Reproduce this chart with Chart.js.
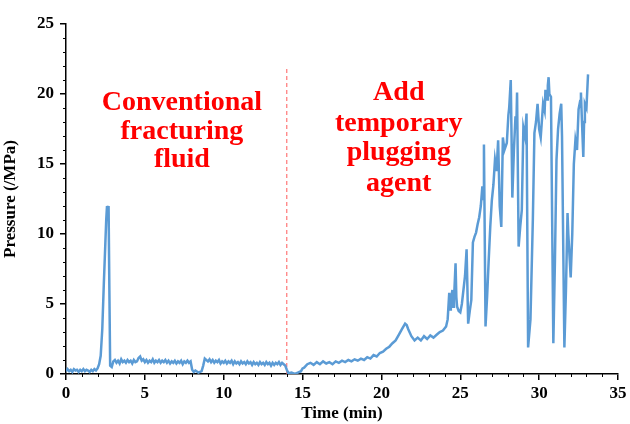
<!DOCTYPE html>
<html>
<head>
<meta charset="utf-8">
<script src="https://cdn.jsdelivr.net/npm/chart.js@4"></script>
<style>
  html, body { margin: 0; padding: 0; background: #fff; }
  #wrap { width: 630px; height: 424px; }
</style>
</head>
<body>
<div id="wrap"><canvas id="pressure-chart"></canvas></div>
<script>
// time (min) and pressure (MPa)
const timeMin = [
  0.0, 0.1, 0.2, 0.3, 0.4, 0.5, 0.6, 0.7, 0.8, 0.9, 1.0, 1.1, 1.2, 1.3, 1.4, 1.5, 1.6, 1.7, 1.8, 1.9,
  2.0, 2.1, 2.2, 2.3, 2.4, 2.5, 2.55, 2.6, 2.65, 2.7, 2.75, 2.8, 2.9,
  3.0, 3.1, 3.2, 3.3, 3.4, 3.5, 3.6, 3.7, 3.8, 3.9, 4.0, 4.1, 4.2, 4.3, 4.4, 4.5, 4.6, 4.7, 4.8, 4.9,
  5.0, 5.1, 5.2, 5.3, 5.4, 5.5, 5.6, 5.7, 5.8, 5.9, 6.0, 6.1, 6.2, 6.3, 6.4, 6.5, 6.6, 6.7, 6.8, 6.9,
  7.0, 7.1, 7.2, 7.3, 7.4, 7.5, 7.6, 7.7, 7.8, 7.9,
  8.0, 8.1, 8.2, 8.4, 8.6, 8.7, 8.8,
  9.0, 9.1, 9.2, 9.3, 9.4, 9.5, 9.6, 9.7, 9.8, 9.9, 10.0, 10.1, 10.2, 10.3, 10.4, 10.5, 10.6, 10.7, 10.8, 10.9,
  11.0, 11.1, 11.2, 11.3, 11.4, 11.5, 11.6, 11.7, 11.8, 11.9, 12.0, 12.1, 12.2, 12.3, 12.4, 12.5, 12.6, 12.7, 12.8, 12.9,
  13.0, 13.1, 13.2, 13.3, 13.4, 13.5, 13.6, 13.7, 13.8,
  13.9, 14.0, 14.1, 14.3, 14.5, 14.7, 14.9, 15.0, 15.1, 15.3, 15.5,
  15.7, 15.9, 16.1, 16.3, 16.5, 16.7, 16.9, 17.1, 17.3, 17.5, 17.7, 17.9, 18.1, 18.3, 18.5, 18.7, 18.9, 19.1, 19.3, 19.5, 19.7, 19.9,
  20.1, 20.3, 20.5, 20.7, 20.9, 21.1, 21.3, 21.5, 21.6, 21.7, 21.9, 22.1, 22.3, 22.5, 22.7, 22.9, 23.1, 23.3, 23.5, 23.7, 23.9,
  24.1, 24.2, 24.3, 24.35, 24.4, 24.5, 24.55, 24.6, 24.7, 24.75, 24.8, 24.9, 25.0, 25.1, 25.2, 25.3, 25.4, 25.5, 25.6, 25.7,
  25.8, 25.9, 26.0, 26.1, 26.2, 26.3, 26.4, 26.45, 26.5, 26.6, 26.7, 26.8, 26.9, 27.0, 27.1, 27.2, 27.3, 27.4, 27.5, 27.6,
  27.7, 27.8, 27.95, 28.05, 28.1, 28.2, 28.25, 28.3, 28.4, 28.5, 28.55, 28.6, 28.7, 28.8, 28.9, 29.0, 29.1, 29.2, 29.3, 29.45,
  29.6, 29.7, 29.8, 29.9, 30.0, 30.1, 30.2, 30.25, 30.35, 30.4, 30.5, 30.55, 30.6, 30.65, 30.75, 30.9, 31.0, 31.1, 31.2, 31.3,
  31.4, 31.45, 31.6, 31.7, 31.8, 31.85, 32.0, 32.1, 32.2, 32.3, 32.4, 32.5, 32.6, 32.65, 32.7, 32.8, 32.85, 32.9, 33.0, 33.1
];
const pressureMPa = [
  0.2, 0.35, 0.2, 0.3, 0.15, 0.35, 0.25, 0.3, 0.15, 0.3, 0.2, 0.35, 0.2, 0.3, 0.25, 0.15, 0.3, 0.2, 0.35, 0.25,
  0.4, 0.7, 1.3, 3.2, 6.5, 9.5, 11.0, 12.0, 11.6, 12.0, 6.0, 0.6, 0.5,
  0.9, 1.0, 0.8, 0.95, 0.75, 1.05, 0.85, 0.95, 0.8, 1.0, 0.85, 0.95, 0.75, 1.0, 0.85, 0.9, 1.15, 1.25, 0.95, 1.05,
  0.85, 1.0, 0.8, 0.95, 0.85, 1.05, 0.8, 0.95, 0.85, 1.0, 0.8, 0.95, 0.85, 1.0, 0.8, 0.95, 0.75, 0.9, 0.8, 0.95,
  0.75, 0.9, 0.8, 0.95, 0.7, 0.9, 0.8, 0.95, 0.8, 0.9,
  0.3, 0.15, 0.25, 0.1, 0.2, 0.6, 1.1,
  0.9, 1.05, 0.85, 1.0, 0.8, 0.95, 0.85, 1.0, 0.75, 0.9, 0.8, 0.95, 0.75, 0.9, 0.8, 0.95, 0.7, 0.9, 0.75, 0.85,
  0.7, 0.9, 0.75, 0.85, 0.7, 0.9, 0.75, 0.85, 0.65, 0.85, 0.7, 0.8, 0.65, 0.85, 0.7, 0.8, 0.65, 0.85, 0.7, 0.8,
  0.6, 0.8, 0.65, 0.8, 0.7, 0.85, 0.65, 0.8, 0.7,
  0.6, 0.3, 0.05, 0.1, 0.0, 0.1, 0.2, 0.4, 0.45, 0.7, 0.8,
  0.65, 0.85, 0.7, 0.9, 0.75, 0.85, 0.7, 0.9, 0.8, 0.95, 0.85, 1.0, 0.9, 1.05, 0.95, 1.1, 1.0, 1.2, 1.1, 1.35, 1.25, 1.5,
  1.6, 1.8, 1.95, 2.2, 2.4, 2.8, 3.2, 3.6, 3.5, 3.2, 2.7, 2.4, 2.6, 2.4, 2.7, 2.5, 2.75, 2.6, 2.8, 3.0, 3.1,
  3.4, 3.9, 5.8, 4.6, 5.2, 6.0, 4.8, 5.3, 7.9, 5.5, 4.8, 4.5, 4.4, 5.0, 6.0, 7.0, 8.9, 3.6, 4.5, 5.3,
  9.4, 9.8, 10.1, 10.7, 11.2, 12.0, 13.4, 12.5, 16.4, 3.4, 5.5, 8.1, 10.5, 12.4, 13.5, 15.3, 14.5, 16.7, 12.0, 10.5,
  16.9, 16.0, 16.5, 18.5, 19.0, 21.0, 17.0, 12.6, 16.0, 18.4, 17.5, 20.1, 9.1, 10.5, 11.7, 17.6, 17.0, 18.6, 1.9, 3.9,
  11.0, 17.2, 18.0, 19.3, 17.5, 16.9, 18.5, 19.3, 18.8, 20.3, 19.6, 20.6, 21.2, 20.0, 19.8, 2.2, 8.0, 15.3, 17.5, 18.6,
  19.3, 17.0, 1.9, 6.0, 11.5, 10.0, 6.9, 10.0, 15.0, 16.7, 16.0, 18.9, 19.5, 20.1, 18.5, 15.5, 18.0, 19.3, 19.0, 21.4
];

// dashed marker where the plugging agent is added
const markerTime = [14, 14];
const markerPressure = [0, 22];

const leftNote = ['Conventional', 'fracturing', 'fluid'];
const rightNote = ['Add', 'temporary', 'plugging', 'agent'];

const serif = '"Liberation Serif", "Times New Roman", serif';

// minor ticks + the two red notes
const extrasPlugin = {
  id: 'extras',
  afterDraw(chart) {
    const ctx = chart.ctx;
    const xs = chart.scales.x;
    const ys = chart.scales.y;
    ctx.save();
    ctx.strokeStyle = '#000';
    ctx.lineWidth = 1;
    for (let i = 0; i <= 35; i++) {
      if (i % 5 === 0) continue;
      const px = Math.round(xs.getPixelForValue(i)) + 0.5;
      ctx.beginPath();
      ctx.moveTo(px, ys.bottom);
      ctx.lineTo(px, ys.bottom + 3);
      ctx.stroke();
    }
    for (let i = 0; i <= 25; i++) {
      if (i % 5 === 0) continue;
      const py = Math.round(ys.getPixelForValue(i)) + 0.5;
      ctx.beginPath();
      ctx.moveTo(xs.left - 3, py);
      ctx.lineTo(xs.left, py);
      ctx.stroke();
    }

    ctx.fillStyle = '#ff0000';
    ctx.font = 'bold 28px ' + serif;
    ctx.textAlign = 'center';
    ctx.textBaseline = 'middle';
    const leftY = [19.4, 17.3, 15.3];
    leftNote.forEach((t, i) => {
      ctx.fillText(t, xs.getPixelForValue(7.35), ys.getPixelForValue(leftY[i]));
    });
    const rightY = [20.1, 17.9, 15.8, 13.6];
    rightNote.forEach((t, i) => {
      ctx.fillText(t, xs.getPixelForValue(21.1), ys.getPixelForValue(rightY[i]));
    });
    ctx.restore();
  }
};

function createPressureChart() {
  const ctx = document.getElementById('pressure-chart').getContext('2d');
  new Chart(ctx, {
    type: 'line',
    data: {
      datasets: [
        {
          data: timeMin.map((t, i) => ({ x: t, y: pressureMPa[i] })),
          borderColor: 'rgb(91, 155, 213)',
          borderWidth: 2.5,
          pointRadius: 0,
          tension: 0,
        },
        {
          data: markerTime.map((t, i) => ({ x: t, y: markerPressure[i] })),
          borderColor: 'rgb(255, 90, 90)',
          borderWidth: 1,
          borderDash: [4, 3],
          pointRadius: 0,
        },
      ],
    },
    options: {
      responsive: true,
      maintainAspectRatio: false,
      animation: false,
      layout: { padding: { top: 24, right: 12, left: 0, bottom: 0 } },
      plugins: {
        legend: { display: false },
        tooltip: { enabled: false },
      },
      scales: {
        x: {
          type: 'linear',
          min: 0,
          max: 35,
          ticks: {
            stepSize: 5,
            color: '#000',
            font: { family: serif, size: 17, weight: 'bold' },
            padding: 3,
            maxRotation: 0,
          },
          grid: { drawOnChartArea: false, color: '#000', tickLength: 6, lineWidth: 1.5 },
          border: { color: '#000', width: 1.5 },
          title: {
            display: true,
            text: 'Time (min)',
            color: '#000',
            font: { family: serif, size: 17, weight: 'bold' },
            padding: { top: 0, bottom: 0 },
          },
          afterFit(scale) { scale.height = 50; },
        },
        y: {
          min: 0,
          max: 25,
          ticks: {
            stepSize: 5,
            color: '#000',
            font: { family: serif, size: 17, weight: 'bold' },
            padding: 6,
          },
          grid: { drawOnChartArea: false, color: '#000', tickLength: 6, lineWidth: 1.5 },
          border: { color: '#000', width: 1.5 },
          title: {
            display: true,
            text: 'Pressure (/MPa)',
            color: '#000',
            font: { family: serif, size: 17, weight: 'bold' },
            padding: { top: 0, bottom: 2 },
          },
          afterFit(scale) { scale.width = 66; },
        },
      },
    },
    plugins: [extrasPlugin],
  });
}

document.addEventListener('DOMContentLoaded', () => {
  createPressureChart();
});
</script>
</body>
</html>
